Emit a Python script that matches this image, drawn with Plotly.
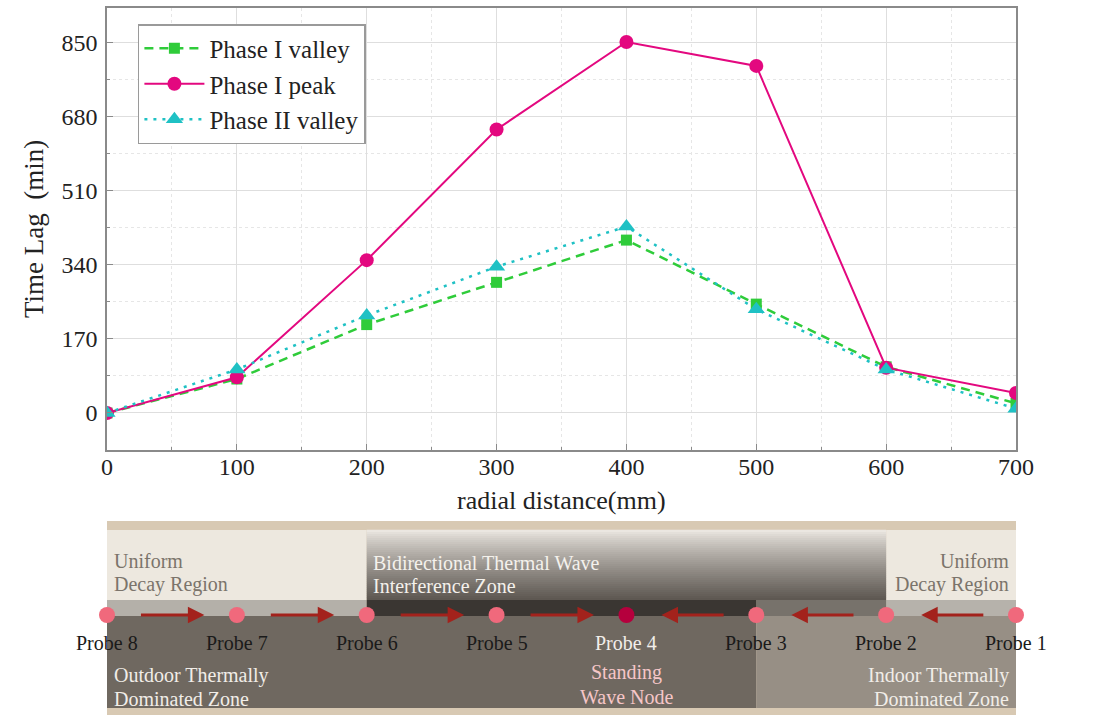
import plotly.graph_objects as go

# ---- data -----------------------------------------------------------------
distance_mm = [0, 100, 200, 300, 400, 500, 600, 700]
phase1_valley = [0, 78, 203, 300, 397, 250, 106, 22]
phase1_peak = [0, 82, 351, 651, 852, 797, 104, 46]
phase2_valley = [0, 100, 224, 336, 428, 238, 100, 10]

y_ticks = [0, 170, 340, 510, 680, 850]

probe_names = ["Probe 8", "Probe 7", "Probe 6", "Probe 5", "Probe 4", "Probe 3", "Probe 2", "Probe 1"]
probe_pos = [0, 100, 200, 300, 400, 500, 600, 700]

FONT = "Liberation Serif, Times New Roman, serif"

fig = go.Figure()

fig.add_trace(go.Scatter(
    x=distance_mm, y=phase1_valley, name="Phase I valley", mode="lines+markers",
    line=dict(color="#2fcc3a", width=2.5, dash="9px,6px"),
    marker=dict(symbol="square", size=11, color="#2fcc3a"),
    legendgroup="a"))
fig.add_trace(go.Scatter(
    x=distance_mm, y=phase1_peak, name="Phase I peak", mode="lines+markers",
    line=dict(color="#e3087f", width=2),
    marker=dict(symbol="circle", size=14, color="#e3087f"),
    legendgroup="b"))
fig.add_trace(go.Scatter(
    x=distance_mm, y=phase2_valley, name="Phase II valley", mode="lines+markers",
    line=dict(color="#1fc1c4", width=2.5, dash="3px,6px"),
    marker=dict(symbol="triangle-up", size=15, color="#1fc1c4"),
    legendgroup="c"))

# ---- schematic of the probe line under the chart ----------------------------
shapes = []


def rect(x0, x1, y0, y1, color):
    shapes.append(dict(type="rect", xref="x2", yref="y2", x0=x0, x1=x1, y0=y0, y1=y1,
                       fillcolor=color, line=dict(width=0), layer="below"))


def lerp(c0, c1, t):
    return "rgb(%d,%d,%d)" % tuple(round(a + (b - a) * t) for a, b in zip(c0, c1))


rect(0, 700, 0, 194, "#d8c9b3")          # tan frame
rect(0, 200, 115, 185, "#ede8df")        # outer uniform region
rect(600, 700, 115, 185, "#ede8df")      # inner uniform region
# vertical gradient of the interference zone
n = 35
top_c, bot_c = (240, 236, 230), (92, 86, 80)
for i in range(n):
    y0 = 115 + 70 * i / n
    y1 = 115 + 70 * (i + 1) / n + 0.3
    t = 1 - (i + 0.5) / n
    rect(200, 600, y0, y1, lerp(top_c, bot_c, t ** 0.8))
rect(0, 200, 99, 115, "#b4b0a9")
rect(600, 700, 99, 115, "#b6b2ab")
rect(500, 600, 99, 115, "#77726b")
rect(200, 500, 99, 115, "#3a3632")
rect(0, 500, 7, 99, "#6f6860")
rect(500, 700, 7, 99, "#978f85")

fig.add_trace(go.Scatter(
    x=probe_pos, y=[100] * len(probe_pos), mode="markers", xaxis="x2", yaxis="y2",
    marker=dict(size=16, color=["#f0697c"] * 4 + ["#b5003d"] + ["#f0697c"] * 3),
    showlegend=False, hoverinfo="skip", cliponaxis=False))

annotations = []
arrow_color = "#a3221c"
for a in probe_pos[:-1]:
    if a < 400:
        tail, head = a + 25, a + 75
    else:
        tail, head = a + 76, a + 27
    annotations.append(dict(x=head, y=100, ax=tail, ay=100, xref="x2", yref="y2",
                            axref="x2", ayref="y2", showarrow=True, arrowhead=2,
                            arrowsize=1.1, arrowwidth=3, arrowcolor=arrow_color, text=""))

for name, pos in zip(probe_names, probe_pos):
    annotations.append(dict(x=pos, y=72, xref="x2", yref="y2", text=name, showarrow=False,
                            font=dict(family=FONT, size=20,
                                      color="#f2eeea" if name == "Probe 4" else "#1a1a1a")))


def label(x, ys, lines, color, anchor="left", size=20):
    for y, text in zip(ys, lines):
        annotations.append(dict(x=x, y=y, xref="x2", yref="y2", text=text, showarrow=False,
                                xanchor=anchor, font=dict(family=FONT, size=size, color=color)))


label(4, [154, 131], ["Uniform", "Decay Region"], "#7b746b")
label(696, [154, 131], ["Uniform", "Decay Region"], "#7b746b", anchor="right")
label(203, [152, 129], ["Bidirectional Thermal Wave", "Interference Zone"], "#f4f1ec")
label(4, [40, 16], ["Outdoor Thermally", "Dominated Zone"], "#f1ede8")
label(696, [40, 16], ["Indoor Thermally", "Dominated Zone"], "#f1ede8", anchor="right")
label(400, [43, 18], ["Standing", "Wave Node"], "#f6c6c8", anchor="center")
label(-9, [100], ["OUTSIDE"], "#1a1a1a", anchor="right")
label(711, [100], ["INSIDE"], "#1a1a1a")

# x-axis title placed just under the tick labels
annotations.append(dict(x=0.5, y=(715 - 500) / 707, xref="paper", yref="paper",
                        text="radial distance(mm)", showarrow=False, yanchor="middle",
                        font=dict(family=FONT, size=26, color="#222")))

axis_common = dict(showline=True, linecolor="#8a8a8a", linewidth=1.5, mirror=True,
                   ticks="inside", ticklen=6, tickcolor="#8a8a8a", zeroline=False,
                   showgrid=True, gridcolor="#dedede", gridwidth=1,
                   tickfont=dict(family=FONT, size=24, color="#222"))

fig.update_layout(
    width=1101, height=717,
    margin=dict(l=107, r=85, t=8, b=2),
    paper_bgcolor="white", plot_bgcolor="white",
    font=dict(family=FONT, color="#222"),
    shapes=shapes, annotations=annotations,
    xaxis=dict(domain=[0, 1], range=[0, 700], dtick=100, tick0=0, anchor="y",
               ticklabelstandoff=-6,
               minor=dict(dtick=50, ticks="inside", ticklen=3, tickcolor="#8a8a8a",
                          showgrid=True, gridcolor="#e6e6e6", griddash="dot"),
               **axis_common),
    yaxis=dict(domain=[265 / 707, 1], range=[-85, 930], tickvals=y_ticks, anchor="x",
               ticklabelstandoff=3,
               minor=dict(dtick=85, tick0=0, ticks="inside", ticklen=3, tickcolor="#8a8a8a",
                          showgrid=True, gridcolor="#e6e6e6", griddash="dot"),
               title=dict(text="Time Lag\u00a0\u00a0(min)", font=dict(family=FONT, size=27), standoff=10),
               **axis_common),
    xaxis2=dict(domain=[0, 1], range=[0, 700], anchor="y2", visible=False, fixedrange=True),
    yaxis2=dict(domain=[0, 194 / 707], range=[0, 194], anchor="x2", visible=False, fixedrange=True),
    legend=dict(x=0.034, y=(715 - 24) / 707, xanchor="left", yanchor="top", bgcolor="white",
                bordercolor="#9a9a9a", borderwidth=1.5, tracegroupgap=0, itemwidth=60,
                font=dict(family=FONT, size=25, color="#222")),
    showlegend=True,
)

fig.write_html("out.html")
